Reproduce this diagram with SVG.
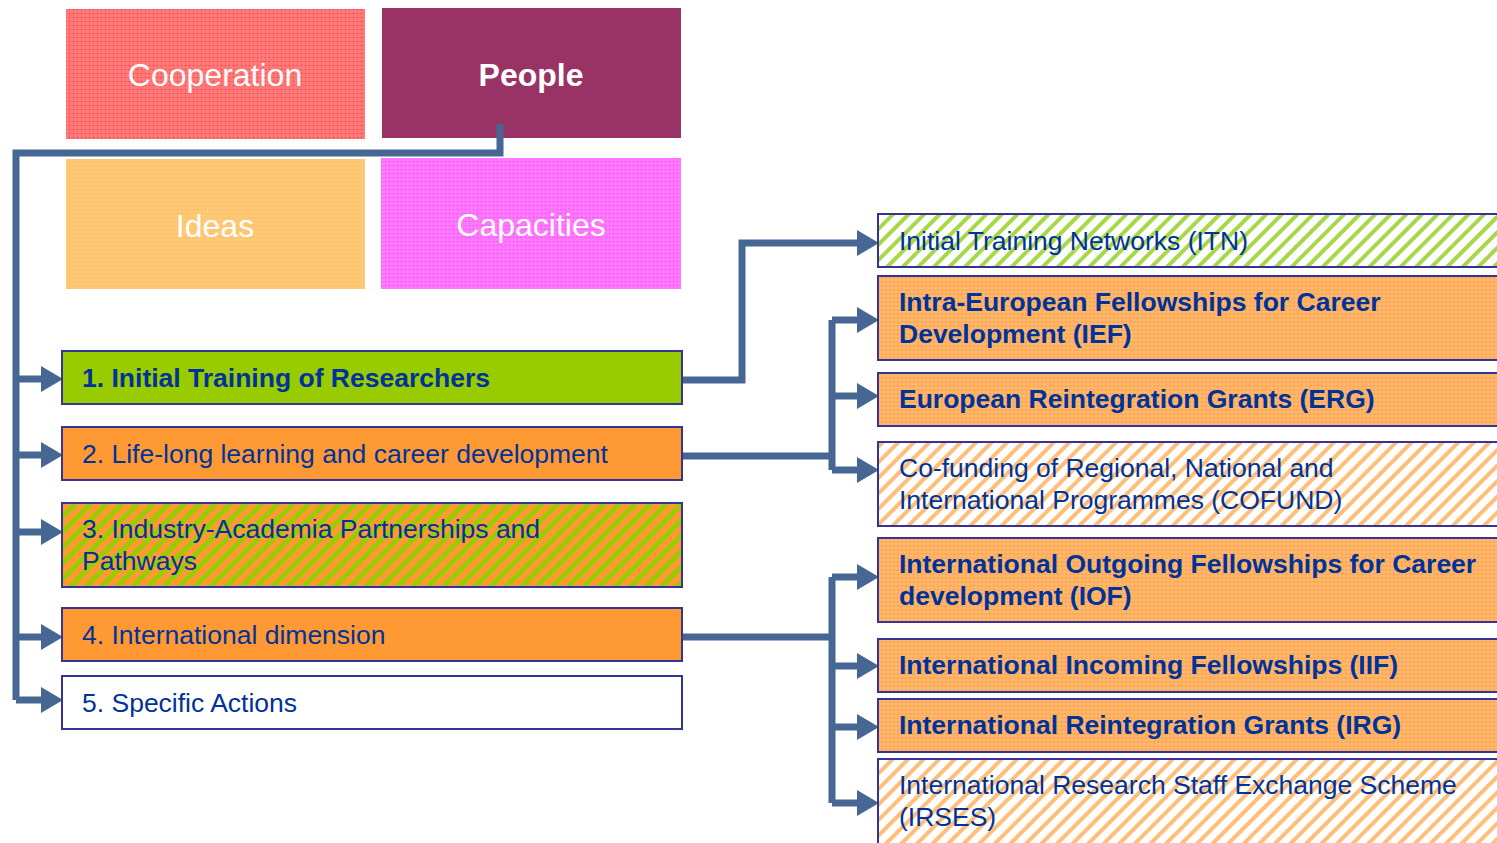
<svg xmlns="http://www.w3.org/2000/svg" width="1497" height="843" viewBox="0 0 1497 843">
<style>
.t{font-family:"Liberation Sans",Arial,sans-serif;}
.top{font-size:32px;fill:#ffffff;text-anchor:middle;}
.lb{font-size:26.5px;fill:#003399;}
.b{font-weight:bold;}
.box{stroke:#333399;stroke-width:2;}
.con{fill:none;stroke:#466694;stroke-width:7;stroke-linejoin:miter;}
</style>
<defs>
<pattern id="dotRed" width="4" height="4" patternUnits="userSpaceOnUse"><rect width="4" height="4" fill="#FF7777"/><rect x="1" y="1" width="1" height="1" fill="#FF2A2A"/></pattern>
<pattern id="dotYel" width="4" height="4" patternUnits="userSpaceOnUse"><rect width="4" height="4" fill="#FFC875"/><rect x="1" y="1" width="1" height="1" fill="#FFB050"/></pattern>
<pattern id="dotPink" width="4" height="4" patternUnits="userSpaceOnUse"><rect width="4" height="4" fill="#FF77FF"/><rect x="1" y="1" width="1" height="1" fill="#FF33EE"/></pattern>
<pattern id="dotOr" width="4" height="4" patternUnits="userSpaceOnUse"><rect width="4" height="4" fill="#FFB56A"/><rect x="1" y="1" width="2" height="2" fill="#FFA550"/></pattern>
<pattern id="strOG" width="11" height="11" patternUnits="userSpaceOnUse" patternTransform="rotate(45)"><rect width="11" height="11" fill="#FF9933"/><rect width="5" height="11" fill="#99CC00"/></pattern>
<pattern id="strGW" width="11" height="11" patternUnits="userSpaceOnUse" patternTransform="rotate(45)"><rect width="11" height="11" fill="#ffffff"/><rect width="4" height="11" fill="#A8D84A"/></pattern>
<pattern id="strOW" width="11" height="11" patternUnits="userSpaceOnUse" patternTransform="rotate(45)"><rect width="11" height="11" fill="#ffffff"/><rect width="4" height="11" fill="#FFBE7A"/></pattern>
<marker id="arr" markerWidth="22" markerHeight="26" refX="0" refY="13" orient="auto" markerUnits="userSpaceOnUse"><path d="M0,0 L22,13 L0,26 Z" fill="#466694"/></marker>
</defs>

<g id="cooperation"><rect x="66" y="9" width="299" height="130" fill="url(#dotRed)"/><text class="t top" x="215" y="86">Cooperation</text></g>
<g id="people"><rect x="382" y="8" width="299" height="130" fill="#993366"/><text class="t top b" x="531" y="86">People</text></g>
<g id="ideas"><rect x="66" y="159" width="299" height="130" fill="url(#dotYel)"/><text class="t top" x="215" y="237">Ideas</text></g>
<g id="capacities"><rect x="381" y="158" width="300" height="131" fill="url(#dotPink)"/><text class="t top" x="531" y="236">Capacities</text></g>

<g id="connectors">
<path class="con" d="M500,124 V153 H16 V700"/>
<path class="con" d="M16,379 H41" marker-end="url(#arr)"/>
<path class="con" d="M16,455 H41" marker-end="url(#arr)"/>
<path class="con" d="M16,532 H41" marker-end="url(#arr)"/>
<path class="con" d="M16,637 H41" marker-end="url(#arr)"/>
<path class="con" d="M16,700 H41" marker-end="url(#arr)"/>
<path class="con" d="M682,380 H742 V243 H857" marker-end="url(#arr)"/>
<path class="con" d="M682,456 H832"/>
<path class="con" d="M832,320 V470"/>
<path class="con" d="M832,320 H857" marker-end="url(#arr)"/>
<path class="con" d="M832,396 H857" marker-end="url(#arr)"/>
<path class="con" d="M832,470 H857" marker-end="url(#arr)"/>
<path class="con" d="M682,637 H832"/>
<path class="con" d="M832,577 V803"/>
<path class="con" d="M832,577 H857" marker-end="url(#arr)"/>
<path class="con" d="M832,666 H857" marker-end="url(#arr)"/>
<path class="con" d="M832,727 H857" marker-end="url(#arr)"/>
<path class="con" d="M832,803 H857" marker-end="url(#arr)"/>
</g>

<g id="n1"><rect class="box" x="62" y="351" width="620" height="53" fill="#99CC00"/><text class="t lb b" x="82" y="387">1. Initial Training of Researchers</text></g>
<g id="n2"><rect class="box" x="62" y="427" width="620" height="53" fill="#FF9933"/><text class="t lb" x="82" y="463">2. Life-long learning and career development</text></g>
<g id="n3"><rect class="box" x="62" y="503" width="620" height="84" fill="url(#strOG)"/><text class="t lb" x="82" y="538">3. Industry-Academia Partnerships and</text><text class="t lb" x="82" y="570">Pathways</text></g>
<g id="n4"><rect class="box" x="62" y="608" width="620" height="53" fill="#FF9933"/><text class="t lb" x="82" y="644">4. International dimension</text></g>
<g id="n5"><rect class="box" x="62" y="676" width="620" height="53" fill="#ffffff"/><text class="t lb" x="82" y="712">5. Specific Actions</text></g>

<g id="itn"><rect class="box" x="878" y="214" width="630" height="53" fill="url(#strGW)"/><text class="t lb" x="899" y="250">Initial Training Networks (ITN)</text></g>
<g id="ief"><rect class="box" x="878" y="276" width="630" height="84" fill="url(#dotOr)"/><text class="t lb b" x="899" y="311">Intra-European Fellowships for Career</text><text class="t lb b" x="899" y="343">Development (IEF)</text></g>
<g id="erg"><rect class="box" x="878" y="373" width="630" height="53" fill="url(#dotOr)"/><text class="t lb b" x="899" y="408">European Reintegration Grants (ERG)</text></g>
<g id="cofund"><rect class="box" x="878" y="442" width="630" height="84" fill="url(#strOW)"/><text class="t lb" x="899" y="477">Co-funding of Regional, National and</text><text class="t lb" x="899" y="509">International Programmes (COFUND)</text></g>
<g id="iof"><rect class="box" x="878" y="538" width="630" height="84" fill="url(#dotOr)"/><text class="t lb b" x="899" y="573">International Outgoing Fellowships for Career</text><text class="t lb b" x="899" y="605">development (IOF)</text></g>
<g id="iif"><rect class="box" x="878" y="639" width="630" height="53" fill="url(#dotOr)"/><text class="t lb b" x="899" y="674">International Incoming Fellowships (IIF)</text></g>
<g id="irg"><rect class="box" x="878" y="699" width="630" height="53" fill="url(#dotOr)"/><text class="t lb b" x="899" y="734">International Reintegration Grants (IRG)</text></g>
<g id="irses"><rect class="box" x="878" y="759" width="630" height="100" fill="url(#strOW)"/><text class="t lb" x="899" y="794">International Research Staff Exchange Scheme</text><text class="t lb" x="899" y="826">(IRSES)</text></g>
</svg>
